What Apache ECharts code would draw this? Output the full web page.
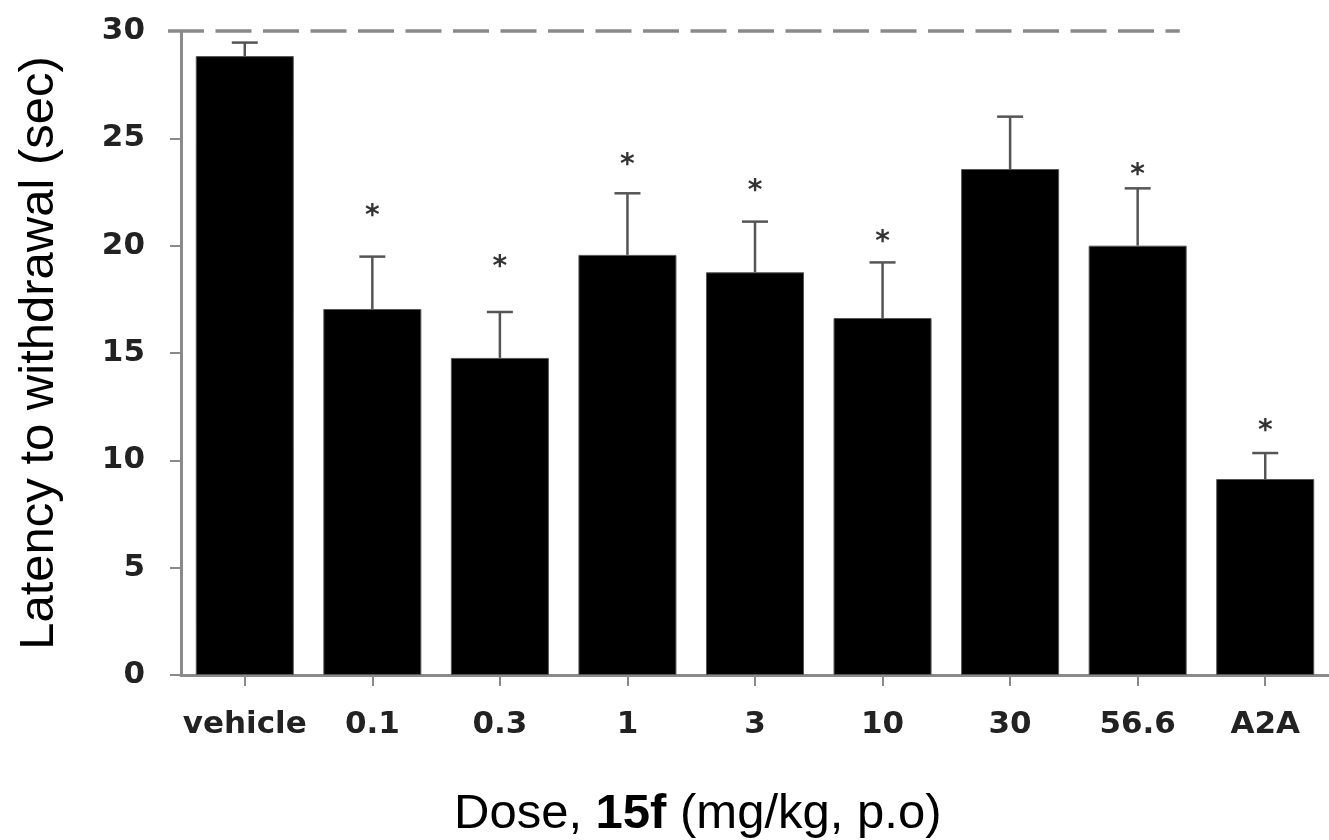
<!DOCTYPE html>
<html>
<head>
<meta charset="utf-8">
<script src="https://cdn.jsdelivr.net/npm/echarts@6/dist/echarts.min.js"></script>
<style>
  html, body { margin: 0; padding: 0; background: #ffffff; }
  #chart { width: 1329px; height: 840px; }
</style>
</head>
<body>
<div id="chart"></div>
<script>
// ---- data ----
const categories = ['vehicle', '0.1', '0.3', '1', '3', '10', '30', '56.6', 'A2A'];
const means      = [28.83, 17.05, 14.77, 19.57, 18.76, 16.63, 23.57, 20.00, 9.13];
const errorTops  = [29.46, 19.49, 16.91, 22.44, 21.12, 19.22, 26.01, 22.67, 10.34];
const starValues = [null, 21.66, 19.29, 24.05, 22.86, 20.46, null, 23.60, 11.65];
const yMin = 0, yMax = 30, yInterval = 5;
const refValue = 30;            // dashed reference line (cut-off)
const refEndIndex = 7;          // dashed line ends over '56.6'

const axisGray = '#8a8a8a';
const labelFont = 'DejaVu Sans';

const chart = echarts.init(document.getElementById('chart'), null, { renderer: 'canvas' });

const option = {
  animation: false,
  backgroundColor: '#ffffff',
  grid: { left: 181, top: 31, width: 1157, height: 644, containLabel: false },
  xAxis: {
    type: 'category',
    data: categories,
    boundaryGap: true,
    axisLine: { show: true, lineStyle: { color: axisGray, width: 3 } },
    axisTick: { show: true, alignWithLabel: true, length: 11, lineStyle: { color: axisGray, width: 2 } },
    axisLabel: {
      show: true, interval: 0, margin: 34,
      fontFamily: labelFont, fontWeight: 'bold', fontSize: 31, color: '#222'
    },
    splitLine: { show: false }
  },
  yAxis: {
    type: 'value',
    min: yMin, max: yMax, interval: yInterval,
    name: 'Latency to withdrawal (sec)',
    nameLocation: 'middle',
    nameGap: 117,
    nameTextStyle: { fontFamily: 'Liberation Sans', fontSize: 49, color: '#000' },
    axisLine: { show: true, lineStyle: { color: axisGray, width: 3 } },
    axisTick: { show: true, inside: false, length: 11, lineStyle: { color: axisGray, width: 2 } },
    axisLabel: {
      show: true, margin: 36,
      fontFamily: labelFont, fontWeight: 'bold', fontSize: 31, color: '#222'
    },
    splitLine: { show: false }
  },
  graphic: [
    {
      type: 'text',
      x: 454, y: 814,
      style: {
        text: '{n|Dose, }{b|15f}{n| (mg/kg, p.o)}',
        align: 'left',
        verticalAlign: 'middle',
        rich: {
          n: { fontFamily: 'Liberation Sans', fontSize: 49, fill: '#000' },
          b: { fontFamily: 'Liberation Sans', fontSize: 49, fontWeight: 'bold', fill: '#000' }
        }
      }
    }
  ],
  series: [
    {
      type: 'bar',
      data: means,
      barWidth: 98,
      itemStyle: { color: '#000', borderColor: '#555', borderWidth: 1 },
      z: 2
    },
    {
      // dashed reference line at 30 s
      type: 'custom',
      data: [[refEndIndex, refValue]],
      z: 1,
      renderItem: function (params, api) {
        const cs = params.coordSys;
        const end = api.coord([api.value(0), api.value(1)]);
        const band = api.size([1, 0])[0];
        return {
          type: 'line',
          shape: { x1: cs.x - 13, y1: end[1], x2: end[0] + band * 0.33, y2: end[1] },
          style: { stroke: '#8a8a8a', lineWidth: 3.5, lineDash: [36, 11.5] }
        };
      }
    },
    {
      // upward error bars
      type: 'custom',
      data: categories.map((c, i) => [i, means[i], errorTops[i]]),
      z: 3,
      renderItem: function (params, api) {
        const base = api.coord([api.value(0), api.value(1)]);
        const top = api.coord([api.value(0), api.value(2)]);
        const half = 13;
        return {
          type: 'group',
          children: [
            { type: 'line', shape: { x1: base[0], y1: base[1], x2: top[0], y2: top[1] },
              style: { stroke: '#555', lineWidth: 2.5 } },
            { type: 'line', shape: { x1: top[0] - half, y1: top[1], x2: top[0] + half, y2: top[1] },
              style: { stroke: '#555', lineWidth: 2.5 } }
          ]
        };
      }
    },
    {
      // significance asterisks
      type: 'custom',
      data: categories.map((c, i) => [i, starValues[i]]).filter(d => d[1] !== null),
      z: 4,
      renderItem: function (params, api) {
        const p = api.coord([api.value(0), api.value(1)]);
        return {
          type: 'text',
          x: p[0], y: p[1] + 7,
          style: {
            text: '*', align: 'center', verticalAlign: 'middle',
            fontFamily: labelFont, fontWeight: 'bold', fontSize: 28, fill: '#333'
          }
        };
      }
    }
  ]
};

chart.setOption(option);
</script>
</body>
</html>
